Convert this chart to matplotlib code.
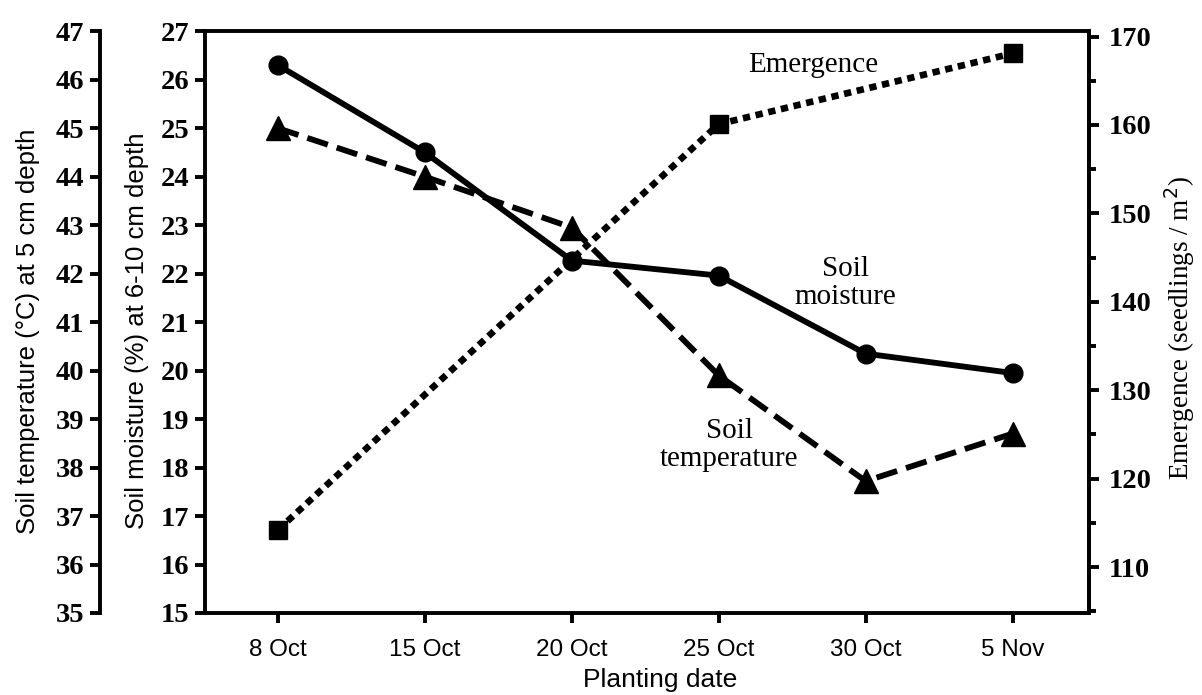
import matplotlib

matplotlib.use("Agg")
import matplotlib.pyplot as plt
from matplotlib.ticker import MultipleLocator

# values
dates = ["8 Oct", "15 Oct", "20 Oct", "25 Oct", "30 Oct", "5 Nov"]
moisture = [26.3, 24.5, 22.27, 21.96, 20.35, 19.95]          # % at 6-10 cm
temperature = [45.0, 44.0, 42.95, 39.9, 37.72, 38.7]        # degC at 5 cm
emergence_idx = [0, 3, 5]                                    # dates with counts
emergence = [114.2, 160.1, 168.1]                            # seedlings / m2

SERIF = "Liberation Serif"
SANS = "Liberation Sans"
INK = "black"

fig = plt.figure(figsize=(12.02, 6.95), dpi=100)
ax = fig.add_axes([0.1705, 0.118, 0.7355, 0.837])
ax_t = ax.twinx()
ax_e = ax.twinx()

x = list(range(len(dates)))

# soil moisture: inner left axis
ax.plot(x, moisture, color=INK, lw=4.2, marker="o", ms=13.5, zorder=3,
        solid_capstyle="round")
ax.set_xlim(-0.497, 5.52)
ax.set_ylim(15, 27)
ax.yaxis.set_major_locator(MultipleLocator(1))
ax.set_xticks(x)
ax.set_xticklabels(dates, fontfamily=SANS, fontsize=17.5)

# soil temperature: outer left axis
ax_t.plot(x, temperature, color=INK, lw=4.2, ls=(0, (3.7, 1.6)), marker="^",
          ms=17, zorder=3, dash_capstyle="butt")
ax_t.set_ylim(35, 47)
ax_t.yaxis.set_major_locator(MultipleLocator(1))
ax_t.yaxis.set_ticks_position("left")
ax_t.spines["left"].set_position(("axes", -0.119))
for s in ("right", "top", "bottom"):
    ax_t.spines[s].set_visible(False)

# emergence: right axis
ax_e.plot(emergence_idx, emergence, color=INK, lw=4.8, ls=(0, (1.1, 0.85)),
          marker="s", ms=13.5, zorder=3, dash_capstyle="butt")
ax_e.set_ylim(104.8, 170.6)
ax_e.yaxis.set_major_locator(MultipleLocator(10))
ax_e.yaxis.set_minor_locator(MultipleLocator(5))
for s in ("left", "top", "bottom"):
    ax_e.spines[s].set_visible(False)

for a in (ax, ax_t, ax_e):
    for s in a.spines.values():
        s.set_linewidth(2.8)
    a.tick_params(axis="both", which="major", direction="out", length=7,
                  width=2.8, color=INK)
    a.tick_params(axis="y", which="minor", direction="out", length=5,
                  width=2.8)
    for lab in a.get_yticklabels():
        lab.set_fontfamily(SERIF)
        lab.set_fontweight("bold")
        lab.set_fontsize(20.5)
ax.tick_params(axis="x", pad=12)
ax.tick_params(axis="y", pad=4)
ax_t.tick_params(axis="y", pad=4)
ax_e.tick_params(axis="y", pad=7)

# axis titles
ax.text(-0.2, 0.485, "Soil temperature (°C) at 5 cm depth", transform=ax.transAxes,
        rotation=90, ha="center", va="center", fontfamily=SANS, fontsize=18.5)
ax.text(-0.077, 0.485, "Soil moisture (%) at 6-10 cm depth", transform=ax.transAxes,
        rotation=90, ha="center", va="center", fontfamily=SANS, fontsize=18.5)
ax.text(1.103, 0.49, "Emergence (seedlings / m$^2$)", transform=ax.transAxes,
        rotation=90, ha="center", va="center", fontfamily=SERIF, fontsize=19.5)
ax.text(0.515, -0.115, "Planting date", transform=ax.transAxes,
        ha="center", va="center", fontfamily=SANS, fontsize=19)

# series annotations (positions on the moisture scale)
ax.text(3.64, 26.3, "Emergence", ha="center", va="center",
        fontfamily=SERIF, fontsize=21)
ax.text(3.86, 21.81, "Soil\nmoisture", ha="center", va="center",
        fontfamily=SERIF, fontsize=21, linespacing=1.1)
ax.text(3.07, 18.47, "Soil\ntemperature", ha="center", va="center",
        fontfamily=SERIF, fontsize=21, linespacing=1.1)

fig.savefig("out.png", dpi=100)
